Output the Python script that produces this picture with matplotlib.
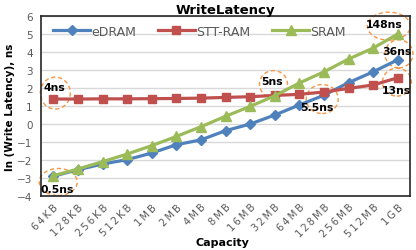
import matplotlib
matplotlib.use("Agg")
import matplotlib.pyplot as plt
from matplotlib.patches import Ellipse

capacity = ["64KB", "128KB", "256KB", "512KB", "1MB", "2MB", "4MB", "8MB", "16MB",
            "32MB", "64MB", "128MB", "256MB", "512MB", "1GB"]
edram = [-2.9, -2.54, -2.22, -1.98, -1.61, -1.15, -0.88, -0.37, 0.0,
         0.5, 1.06, 1.6, 2.3, 2.9, 3.57]
sttram = [1.39, 1.39, 1.40, 1.40, 1.41, 1.42, 1.44, 1.48, 1.52,
          1.59, 1.65, 1.78, 1.98, 2.17, 2.57]
sram = [-2.87, -2.5, -2.09, -1.67, -1.2, -0.69, -0.15, 0.43, 0.98,
        1.57, 2.28, 2.9, 3.61, 4.22, 5.0]
notes = ["4ns", "5ns", "5.5ns", "148ns", "36ns", "13ns", "0.5ns"]
note_xy = [(0.04, 2.05), (8.9, 2.4), (10.73, 0.94), (13.44, 5.55),
           (13.97, 4.05), (13.93, 1.89), (0.16, -3.6)]
ring_xy = [(0.08, 1.72), (8.95, 2.22), (10.93, 1.39), (13.64, 5.44),
           (14.05, 3.9), (13.97, 2.33), (0.2, -3.22)]
ring_px = [(30, 32), (28, 27), (32, 29), (43, 28), (28, 28), (29, 28), (38, 27)]

BLUE, RED, GREEN, ORANGE = "#4F81BD", "#C0504D", "#9BBB59", "#F79646"
GREY = "#595959"

fig = plt.figure(figsize=(4.16, 2.51), dpi=100)
ax = fig.add_axes([0.0986, 0.215, 0.887, 0.717])
x = list(range(len(capacity)))
ax.plot(x, edram, color=BLUE, lw=2.3, marker="D", ms=5, label="eDRAM")
ax.plot(x, sttram, color=RED, lw=2.3, marker="s", ms=5.5, label="STT-RAM")
ax.plot(x, sram, color=GREEN, lw=2.3, marker="^", ms=7, label="SRAM")

ax.set_xlim(-0.5, len(capacity) - 0.5)
ax.set_ylim(-4, 6)
ax.set_yticks(range(-4, 7))
ax.set_xticks(x)
# letter-spaced tick labels like the original
ax.set_xticklabels(["\u2009".join(c) for c in capacity], rotation=45, ha="right",
                   rotation_mode="anchor", fontsize=7.2, color=GREY)
ax.tick_params(axis="y", labelsize=7.5, labelcolor=GREY, length=0, pad=6)
ax.tick_params(axis="x", length=0, pad=4)
ax.grid(axis="y", color="#D9D9D9", lw=1)
ax.set_axisbelow(True)
for s in ax.spines.values():
    s.set_color("#262626")
    s.set_linewidth(1.2)

# data units per pixel, for the dashed rings
dx = len(capacity) / (0.887 * 416)
dy = 10 / (0.717 * 251)
for (cx, cy), (w, h) in zip(ring_xy, ring_px):
    ax.add_patch(Ellipse((cx, cy), w * dx, h * dy, fill=False, ec=ORANGE,
                         ls=(0, (3, 2)), lw=1, clip_on=False))
for t, (tx, ty) in zip(notes, note_xy):
    ax.text(tx, ty, t, ha="center", va="center", fontsize=7.8,
            fontweight="bold", color="black")

ax.legend(loc="upper left", bbox_to_anchor=(0.01, 1.0), ncol=3, frameon=False,
          fontsize=9, labelcolor=GREY, handlelength=2.9, columnspacing=1.75,
          handletextpad=0.15, borderaxespad=0.3)
ax.set_title("WriteLatency", fontsize=9.5, fontweight="bold", pad=2)
ax.set_ylabel("ln (Write Latency), ns", fontsize=7.5, fontweight="bold", labelpad=2)
ax.set_xlabel("Capacity", fontsize=8, fontweight="bold")
ax.xaxis.set_label_coords(0.493, -0.225)

fig.savefig("out.png", dpi=100)
